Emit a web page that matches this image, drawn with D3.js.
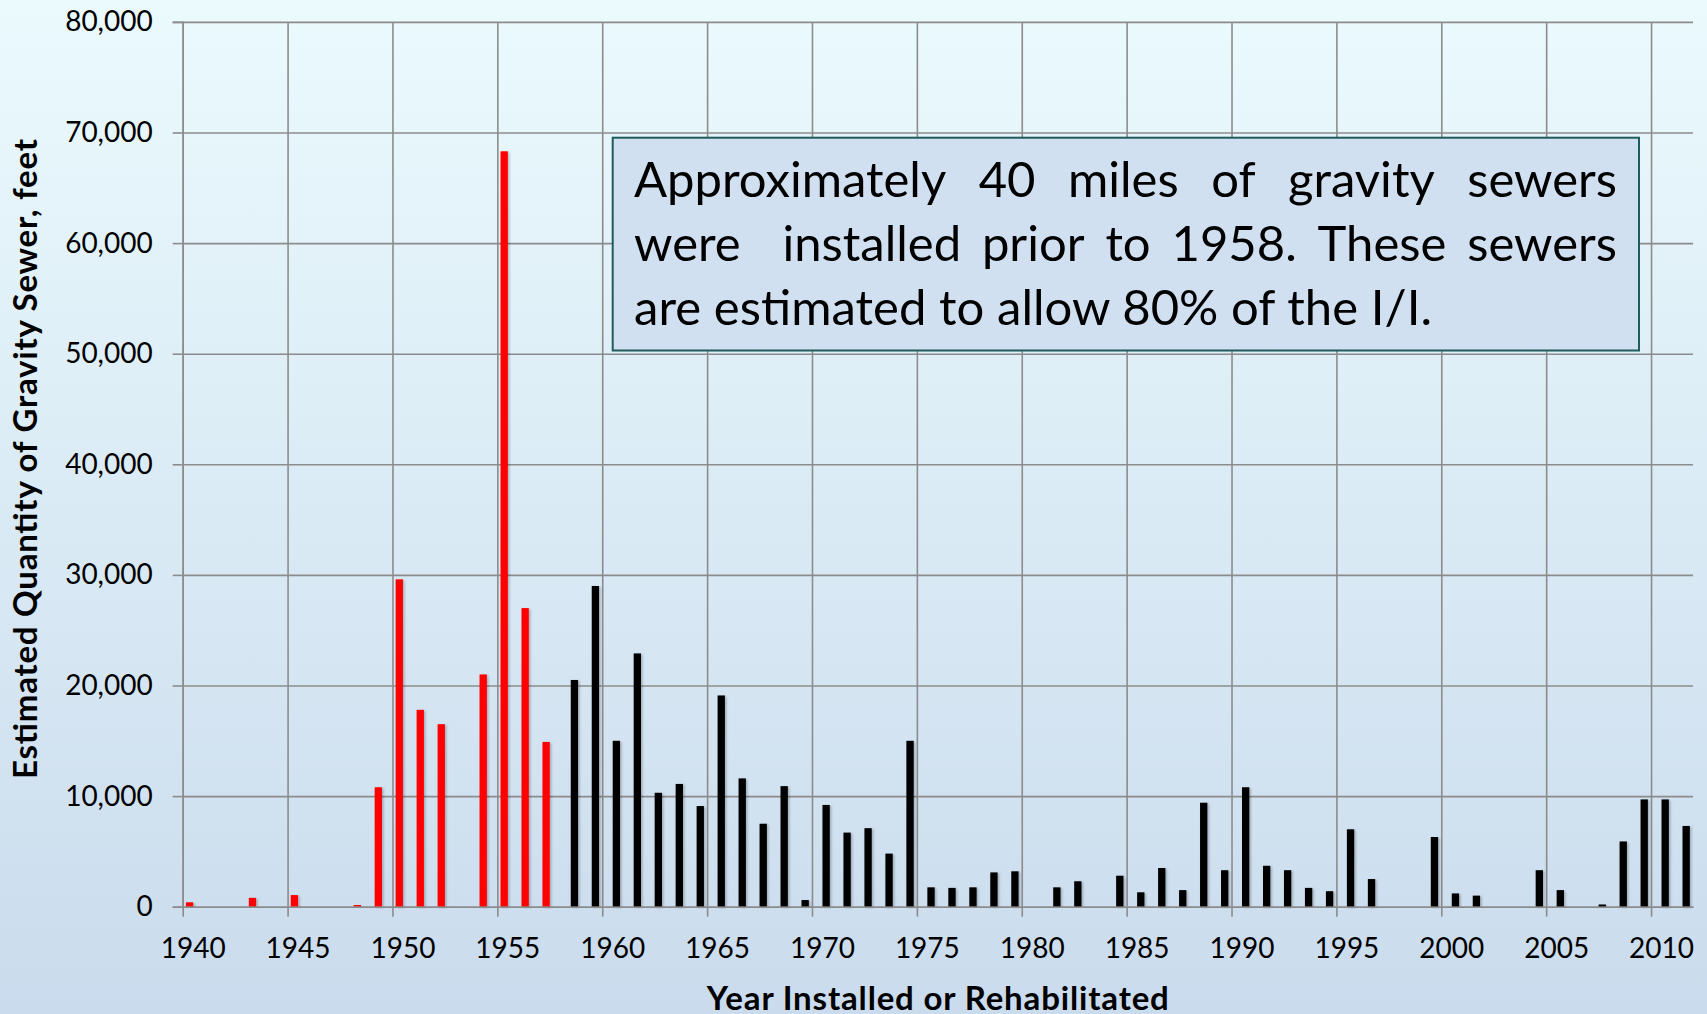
<!DOCTYPE html>
<html lang="en">
<head>
<meta charset="utf-8">
<title>Gravity sewer by year installed</title>
<script src="https://cdn.jsdelivr.net/npm/d3@7"></script>
<style>
html, body { margin: 0; padding: 0; overflow: hidden; }
svg { display: block; font-family: Lato, "Noto Sans", sans-serif; }
</style>
</head>
<body>
<svg id="chart" width="1707" height="1014"></svg>
<script>
// categories: every year 1940..2011
var firstYear = 1940, lastYear = 2011;
var xTickYears = [1940, 1945, 1950, 1955, 1960, 1965, 1970, 1975, 1980, 1985, 1990, 1995, 2000, 2005, 2010];
var yTicks = [0, 10000, 20000, 30000, 40000, 50000, 60000, 70000, 80000];

// installed prior to 1958 (red)
var preYears = [1940, 1943, 1945, 1948, 1949, 1950, 1951, 1952, 1954, 1955, 1956, 1957];
var preFeet  = [400, 800, 1050, 150, 10800, 29600, 17800, 16500, 21000, 68300, 27000, 14900];

// installed 1958 and later (black)
var postYears = [1958, 1959, 1960, 1961, 1962, 1963, 1964, 1965, 1966, 1967, 1968, 1969, 1970, 1971,
                 1972, 1973, 1974, 1975, 1976, 1977, 1978, 1979, 1981, 1982, 1984, 1985, 1986, 1987,
                 1988, 1989, 1990, 1991, 1992, 1993, 1994, 1995, 1996, 1999, 2000, 2001, 2004, 2005,
                 2007, 2008, 2009, 2010, 2011];
var postFeet  = [20500, 29000, 15000, 22900, 10300, 11100, 9100, 19100, 11600, 7500, 10900, 600, 9200, 6700,
                 7100, 4800, 15000, 1750, 1700, 1750, 3100, 3200, 1750, 2300, 2800, 1300, 3500, 1500,
                 9400, 3300, 10800, 3700, 3300, 1700, 1400, 7000, 2500, 6300, 1200, 1000, 3300, 1500,
                 200, 5900, 9700, 9700, 7300];

var yTitle = 'Estimated Quantity of Gravity Sewer, feet';
var xTitle = 'Year Installed or Rehabilitated';
var noteLines = [
    'Approximately 40 miles of gravity sewers',
    'were  installed prior to 1958. These sewers',
    'are estimated to allow 80% of the I/I.'
];

var W = 1707, H = 1014;
var plotL = 182.7, plotR = 1693, plotT = 21.9, plotB = 906.7;
var gridColor = '#8c8c8c';

var svg = d3.select('#chart');

// background gradient
var defs = svg.append('defs');
var grad = defs.append('linearGradient').attr('id', 'bg')
    .attr('x1', 0).attr('y1', 0).attr('x2', 0).attr('y2', 1);
grad.append('stop').attr('offset', '0%').attr('stop-color', '#ebfafd');
grad.append('stop').attr('offset', '100%').attr('stop-color', '#cadbed');
var shadow = defs.append('filter').attr('id', 'shadow')
    .attr('x', '-50%').attr('y', '-5%').attr('width', '200%').attr('height', '110%');
shadow.append('feDropShadow').attr('dx', 1.5).attr('dy', 1).attr('stdDeviation', 1)
    .attr('flood-color', '#000').attr('flood-opacity', 0.25);

svg.append('rect').attr('width', W).attr('height', H).attr('fill', 'url(#bg)');

var years = d3.range(firstYear, lastYear + 1);
var x = d3.scaleBand().domain(years).range([plotL, plotR]).paddingInner(0).paddingOuter(0);
var xLin = d3.scaleLinear().domain([firstYear, lastYear + 1]).range([plotL, plotR]);
var series = d3.scaleBand().domain(['pre', 'post']).range([0, x.bandwidth()])
    .paddingInner(0).paddingOuter(0.435);
var y = d3.scaleLinear().domain([0, 80000]).range([plotB, plotT]);

// horizontal gridlines
svg.append('g').attr('transform', 'translate(' + plotL + ',0)')
    .call(d3.axisLeft(y).tickValues(yTicks).tickSize(-(plotR - plotL)).tickFormat(''))
    .call(function(g) { g.select('.domain').remove(); })
    .selectAll('line').attr('stroke', gridColor).attr('stroke-width', 1.6);

// vertical gridlines
svg.append('g').attr('transform', 'translate(0,' + plotB + ')')
    .call(d3.axisBottom(xLin).tickValues(xTickYears).tickSize(-(plotB - plotT)).tickFormat(''))
    .call(function(g) { g.select('.domain').remove(); })
    .selectAll('line').attr('stroke', gridColor).attr('stroke-width', 1.6);

// bars
svg.append('g').selectAll('rect.pre')
    .data(preYears)
    .join('rect')
    .attr('class', 'pre')
    .attr('x', function(d) { return x(d) + series('pre'); })
    .attr('width', series.bandwidth())
    .attr('y', function(d, i) { return y(preFeet[i]); })
    .attr('height', function(d, i) { return y(0) - y(preFeet[i]); })
    .attr('fill', '#ff0000')
    .attr('filter', 'url(#shadow)');

svg.append('g').selectAll('rect.post')
    .data(postYears)
    .join('rect')
    .attr('class', 'post')
    .attr('x', function(d) { return x(d) + series('post'); })
    .attr('width', series.bandwidth())
    .attr('y', function(d, i) { return y(postFeet[i]); })
    .attr('height', function(d, i) { return y(0) - y(postFeet[i]); })
    .attr('fill', '#000000')
    .attr('filter', 'url(#shadow)');

// y axis
var yAxis = svg.append('g').attr('transform', 'translate(' + plotL + ',0)')
    .call(d3.axisLeft(y).tickValues(yTicks).tickSize(10).tickPadding(20).tickFormat(d3.format(',')));
yAxis.select('.domain').attr('stroke', gridColor).attr('stroke-width', 1.6);
yAxis.selectAll('line').attr('stroke', gridColor).attr('stroke-width', 1.6);
yAxis.selectAll('text').attr('font-size', 28).attr('font-family', 'Lato').attr('fill', '#000');

// x axis line and ticks
var xAxis = svg.append('g').attr('transform', 'translate(0,' + plotB + ')')
    .call(d3.axisBottom(xLin).tickValues(xTickYears).tickSize(10).tickSizeOuter(0).tickFormat(''));
xAxis.select('.domain').attr('stroke', gridColor).attr('stroke-width', 1.6);
xAxis.selectAll('line').attr('stroke', gridColor).attr('stroke-width', 1.6);

// x labels centred in their year band
var xLabels = svg.append('g').attr('transform', 'translate(0,' + plotB + ')')
    .call(d3.axisBottom(x).tickValues(xTickYears).tickSize(0).tickPadding(31));
xLabels.select('.domain').remove();
xLabels.selectAll('text').attr('font-size', 28).attr('font-family', 'Lato').attr('fill', '#000');

// axis titles
svg.append('text')
    .attr('transform', 'translate(37,459) rotate(-90)')
    .attr('text-anchor', 'middle')
    .attr('font-size', 33).attr('font-weight', 'bold')
    .attr('textLength', 640).attr('lengthAdjust', 'spacing')
    .text(yTitle);

svg.append('text')
    .attr('x', (plotL + plotR) / 2).attr('y', 1010)
    .attr('text-anchor', 'middle')
    .attr('font-size', 33).attr('font-weight', 'bold')
    .attr('textLength', 462).attr('lengthAdjust', 'spacing')
    .text(xTitle);

// note box
var box = { x: 612.7, y: 137.7, w: 1026.3, h: 212.8 };
svg.append('rect')
    .attr('x', box.x).attr('y', box.y).attr('width', box.w).attr('height', box.h)
    .attr('fill', '#d0e0f0').attr('stroke', '#1f5c5c').attr('stroke-width', 2);

var textL = 634, textR = 1617, baselines = [197, 261, 324.5];
var note = svg.append('g').attr('font-size', 49).attr('fill', '#000');

function measure(str) {
    var t = note.append('text').text(str);
    var w = t.node().getComputedTextLength();
    t.remove();
    return w;
}

function justifyLine(line, base) {
    var words = line.split(' ');
    var widths = words.map(function(w) { return w ? measure(w) : 0; });
    var gap = (textR - textL - d3.sum(widths)) / (words.length - 1);
    var cx = textL;
    words.forEach(function(w, i) {
        if (w) note.append('text').attr('x', cx).attr('y', base).text(w);
        cx += widths[i] + gap;
    });
}

justifyLine(noteLines[0], baselines[0]);
justifyLine(noteLines[1], baselines[1]);
note.append('text').attr('x', textL).attr('y', baselines[2])
    .attr('textLength', 798).attr('lengthAdjust', 'spacing')
    .text(noteLines[2]);
</script>
</body>
</html>
